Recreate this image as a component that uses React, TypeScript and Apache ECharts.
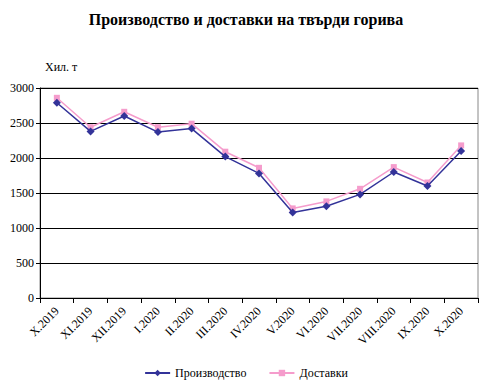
import React, { useEffect, useRef } from "react";
import * as echarts from "echarts";

const categories = [
  "X.2019", "XI.2019", "XII.2019", "I.2020", "II.2020", "III.2020", "IV.2020",
  "V.2020", "VI.2020", "VII.2020", "VIII.2020", "IX.2020", "X.2020",
];
const production = [2790, 2380, 2600, 2370, 2420, 2020, 1780, 1220, 1310, 1480, 1800, 1600, 2100];
const deliveries = [2860, 2440, 2660, 2440, 2490, 2090, 1860, 1280, 1380, 1560, 1870, 1650, 2180];
const titleText = "Производство и доставки на твърди горива";
const unitText = "Хил. т";
const seriesNames = ["Производство", "Доставки"];

const FONT = "Liberation Serif";

export default function App() {
  const ref = useRef<HTMLDivElement>(null);
  useEffect(() => {
    document.body.style.margin = "0";
    const chart = echarts.init(ref.current!, null, { renderer: "svg" });
    chart.setOption({
      animation: false,
      backgroundColor: "#ffffff",
      textStyle: { fontFamily: FONT },
      title: {
        text: titleText,
        left: "center",
        top: 6,
        textStyle: { fontFamily: FONT, fontSize: 16, fontWeight: "bold", color: "#000" },
      },
      graphic: [
        {
          type: "text",
          left: 45,
          top: 61,
          style: { text: unitText, fontFamily: FONT, fontSize: 12, fill: "#000" },
        },
      ],
      legend: {
        bottom: 6,
        left: "center",
        itemWidth: 25,
        itemHeight: 8,
        itemGap: 22,
        textStyle: { fontFamily: FONT, fontSize: 12, color: "#000" },
        data: seriesNames,
      },
      grid: {
        left: 40,
        right: 14,
        top: 88,
        bottom: 92,
        show: true,
        borderColor: "#888",
        borderWidth: 1,
        containLabel: false,
      },
      xAxis: {
        type: "category",
        data: categories,
        boundaryGap: true,
        axisLine: { lineStyle: { color: "#000", width: 1 } },
        axisTick: { show: true, length: 5, lineStyle: { color: "#000" } },
        axisLabel: {
          rotate: 45,
          interval: 0,
          fontFamily: FONT,
          fontSize: 12,
          color: "#000",
          margin: 11,
        },
      },
      yAxis: {
        type: "value",
        min: 0,
        max: 3000,
        interval: 500,
        axisLine: { show: true, lineStyle: { color: "#000", width: 1 } },
        axisTick: { show: true, length: 4, lineStyle: { color: "#000" } },
        axisLabel: {
          fontFamily: FONT,
          fontSize: 12,
          color: "#000",
          margin: 6,
          formatter: (v: number) => String(v),
        },
        splitLine: { show: true, lineStyle: { color: "#000", width: 1 } },
      },
      series: [
        {
          name: seriesNames[0],
          type: "line",
          data: production,
          symbol: "diamond",
          symbolSize: 8,
          itemStyle: { color: "#333399" },
          lineStyle: { color: "#333399", width: 1.5 },
          z: 3,
        },
        {
          name: seriesNames[1],
          type: "line",
          data: deliveries,
          symbol: "rect",
          symbolSize: 6,
          itemStyle: { color: "#f59ccc" },
          lineStyle: { color: "#f59ccc", width: 1.5 },
          z: 2,
        },
      ],
    });
    return () => chart.dispose();
  }, []);
  return <div ref={ref} style={{ width: 492, height: 390 }} />;
}
